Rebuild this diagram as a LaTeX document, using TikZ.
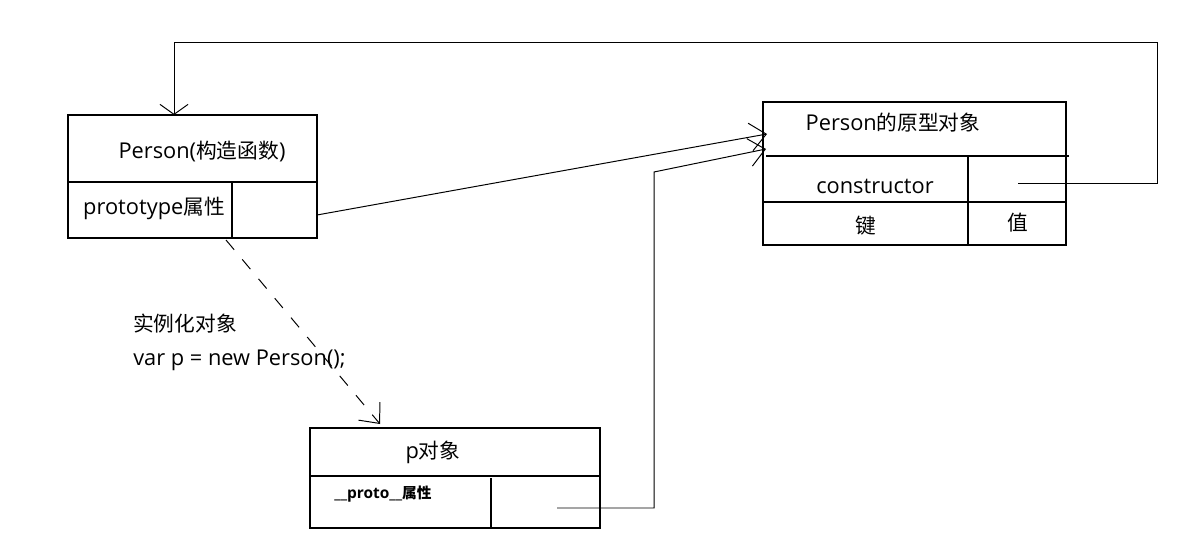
\documentclass[tikz,border=0pt]{standalone}
\usepackage{fontspec}
\setmainfont{Open Sans}
\newfontfamily\cjk[Scale=0.95]{Noto Sans CJK SC}
\usetikzlibrary{arrows.meta}

\tikzset{
  box/.style={draw, rectangle, line width=0.8pt, inner sep=0pt},
  txt/.style={inner sep=0pt, font=\fontsize{15.5pt}{18pt}\selectfont},
  link/.style={line width=0.7pt, -{Straight Barb[length=4mm,width=7mm]}},
}

\begin{document}
\begin{tikzpicture}[x=0.025cm, y=-0.025cm]
  \useasboundingbox (0,0) rectangle (1188,556);

  % boxes
  \node[box, minimum width=6.225cm, minimum height=3.075cm] (person) at (192.5,176.5) {};
  \node[box, minimum width=7.575cm, minimum height=3.575cm] (proto) at (914.5,173.5) {};
  \node[box, minimum width=7.25cm, minimum height=2.5cm] (pobj) at (455,478) {};

  % compartments
  \draw[line width=0.8pt] (68,182) -- (317,182);
  \draw[line width=0.8pt] (232,182) -- (232,238);
  \draw[line width=0.8pt] (766,156) -- (1069,156);
  \draw[line width=0.8pt] (763,202) -- (1066,202);
  \draw[line width=0.8pt] (968,156) -- (968,245);
  \draw[line width=0.8pt] (310,476) -- (600,476);
  \draw[line width=0.8pt] (491,478) -- (491,527);

  % texts
  \node[txt] (ctorname) at (202,152) {Person({\cjk 构造函数})};
  \node[txt] (protoattr) at (154,208) {prototype{\cjk 属性}};
  \node[txt] (protoname) at (893,123) {Person{\cjk 的原型对象}};
  \node[txt] (ctorkey) at (875,186) {constructor};
  \node[txt] (key) at (866,226) {\cjk 键};
  \node[txt] (val) at (1018,223) {\cjk 值};
  \node[txt] (pname) at (433,452) {p{\cjk 对象}};
  \node[txt, font=\fontsize{11pt}{13pt}\selectfont\bfseries] (pattr) at (383,494) {\_\_proto\_\_{\cjk 属性}};
  \node[txt, anchor=west] (newlbl) at (133,324) {\cjk 实例化对象};
  \node[txt, anchor=west] (newcode) at (133,360) {var p = new Person();};

  % connector ends
  \coordinate (ctorv) at (1018,183);
  \coordinate (topin) at (174,115);
  \coordinate (protov) at (317,215);
  \coordinate (protoin1) at (767,134);
  \coordinate (pv) at (557,508);
  \coordinate (protoin2) at (766,149);
  \coordinate (newfrom) at (226,240);
  \coordinate (newto) at (380,424);

  \draw[link, -{Straight Barb[length=2.5mm,width=7mm]}] (ctorv) -| (1157,42) -| (topin);
  \draw[link] (protov) -- (protoin1);
  \draw[link] (pv) -| (654,172) -- (protoin2);
  \draw[link, dash pattern=on 9pt off 9pt] (newfrom) -- (newto);
\end{tikzpicture}
\end{document}
